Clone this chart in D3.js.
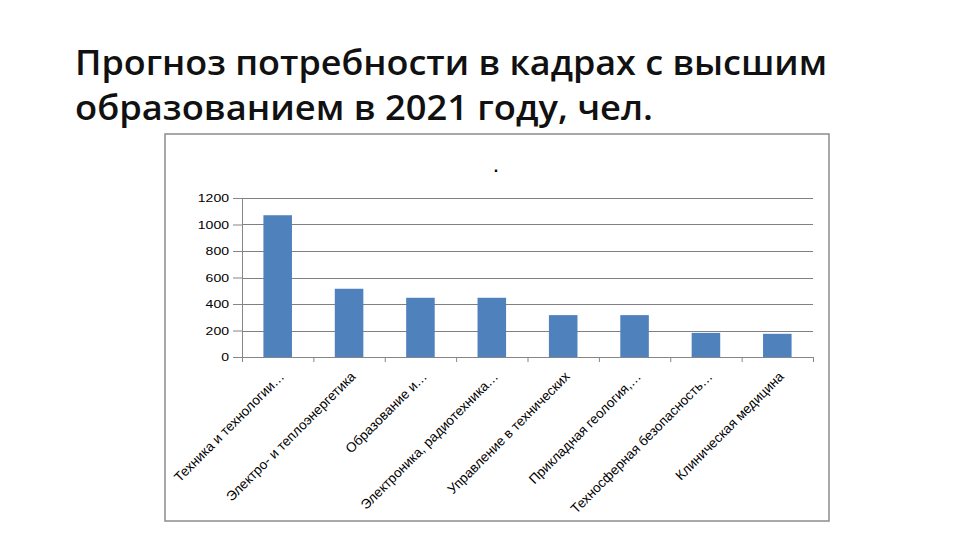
<!DOCTYPE html>
<html>
<head>
<meta charset="utf-8">
<script src="https://cdn.jsdelivr.net/npm/d3@7"></script>
<style>
  body { margin: 0; background: #fff; }
  svg { display: block; }
  .axis text { font-family: 'Liberation Sans', Arial, sans-serif; fill: #000; }
  .axis path, .axis line { stroke: #868686; }
</style>
</head>
<body>
<div id="chart"></div>
<script>
// chart values
const titleLines = ['Прогноз потребности в кадрах с высшим', 'образованием в 2021 году, чел.'];
const categories = [
  'Техника и технологии…',
  'Электро- и теплоэнергетика',
  'Образование и…',
  'Электроника, радиотехника…',
  'Управление в технических',
  'Прикладная геология,…',
  'Техносферная безопасность…',
  'Клиническая медицина'
];
const values = [1070, 515, 447, 447, 316, 316, 182, 175];
const yTicks = [0, 200, 400, 600, 800, 1000, 1200];

const W = 960;
const H = 540;
const frame = { left: 165, top: 134, right: 829, bottom: 521 };
const margin = { top: 198, right: 147, bottom: 183, left: 242 };
const width = W - margin.left - margin.right;
const height = H - margin.top - margin.bottom;

const svg = d3.select('#chart').append('svg')
  .attr('width', W)
  .attr('height', H);

// slide title
svg.append('g')
  .selectAll('text')
  .data(titleLines)
  .enter().append('text')
  .attr('x', 75)
  .attr('y', (d, i) => 75 + i * 45)
  .attr('font-family', "'Open Sans', sans-serif")
  .attr('font-size', 34)
  .attr('font-weight', 600)
  .attr('fill', '#111')
  .attr('textLength', (d, i) => (i === 0 ? 752 : 578))
  .attr('lengthAdjust', 'spacingAndGlyphs')
  .text((d) => d);

// chart frame
svg.append('rect')
  .attr('x', frame.left)
  .attr('y', frame.top)
  .attr('width', frame.right - frame.left)
  .attr('height', frame.bottom - frame.top)
  .attr('fill', '#fff')
  .attr('stroke', '#8c8c8c')
  .attr('stroke-width', 1.5);

// chart title (just a dot)
svg.append('text')
  .attr('x', 496)
  .attr('y', 172)
  .attr('text-anchor', 'middle')
  .attr('font-family', "'Liberation Sans', sans-serif")
  .attr('font-size', 16)
  .attr('font-weight', 'bold')
  .text('.');

const x = d3.scaleBand()
  .domain(categories)
  .range([0, width])
  .paddingInner(0.6)
  .paddingOuter(0.3);

const xb = d3.scaleLinear()
  .domain([0, categories.length])
  .range([0, width]);

const y = d3.scaleLinear()
  .domain([0, 1200])
  .range([height, 0]);

const g = svg.append('g')
  .attr('transform', `translate(${margin.left},${margin.top})`);

// gridlines
g.append('g')
  .selectAll('line')
  .data(yTicks.slice(1))
  .enter().append('line')
  .attr('x1', 0)
  .attr('x2', width)
  .attr('y1', (d) => Math.round(y(d)) + 0.5)
  .attr('y2', (d) => Math.round(y(d)) + 0.5)
  .attr('stroke', '#808080')
  .attr('stroke-width', 1.2);

// bars
g.append('g')
  .selectAll('rect')
  .data(values)
  .enter().append('rect')
  .attr('x', (d, i) => x(categories[i]))
  .attr('y', (d) => y(d))
  .attr('width', x.bandwidth())
  .attr('height', (d) => height - y(d))
  .attr('fill', '#4f81bd');

// y axis
const yAxis = d3.axisLeft(y)
  .tickValues(yTicks)
  .tickFormat(d3.format('d'))
  .tickSize(9)
  .tickPadding(4);

g.append('g')
  .attr('class', 'axis axis--y')
  .call(yAxis)
  .call((s) => s.select('.domain').attr('d', `M0.5,0V${height}`))
  .call((s) => s.selectAll('text')
    .attr('font-size', 11.5)
    .attr('textLength', (d) => String(d).length * 7.8)
    .attr('lengthAdjust', 'spacingAndGlyphs'));

// x axis with ticks between categories
const xAxis = d3.axisBottom(xb)
  .tickValues(d3.range(categories.length + 1))
  .tickSize(5)
  .tickFormat('');

g.append('g')
  .attr('class', 'axis axis--x')
  .attr('transform', `translate(0,${height})`)
  .call(xAxis)
  .call((s) => s.select('.domain').attr('d', `M0,0.5H${width}`));

// rotated category labels
g.append('g')
  .attr('class', 'axis')
  .selectAll('text')
  .data(categories)
  .enter().append('text')
  .attr('transform', (d) => `translate(${x(d) + x.bandwidth() / 2 + 4},${height + 17}) rotate(-45)`)
  .attr('text-anchor', 'end')
  .attr('dy', '0.35em')
  .attr('font-size', 13.5)
  .text((d) => d);
</script>
</body>
</html>
